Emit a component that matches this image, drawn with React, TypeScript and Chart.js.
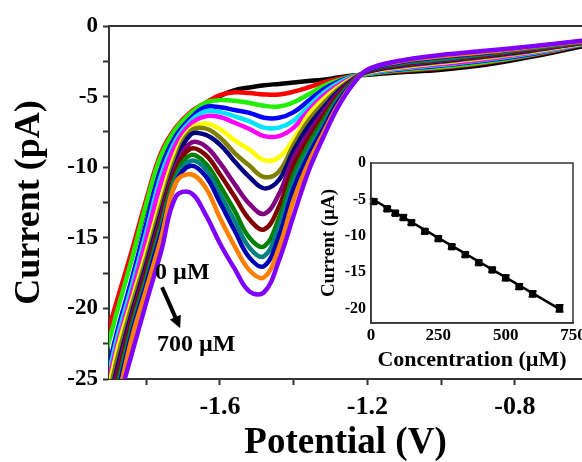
import { useEffect, useRef } from 'react';
import { Chart, registerables } from 'chart.js';

Chart.register(...registerables);

// ---------- main voltammogram data ----------
const potentials = [-1.92, -1.88, -1.84, -1.80, -1.76, -1.72, -1.68, -1.64, -1.60, -1.56, -1.52, -1.48, -1.44, -1.40, -1.36, -1.32, -1.28, -1.24, -1.20, -1.12, -1.00, -0.88, -0.76, -0.62];

const curveBlack = [-23.6, -19.9, -16.5, -12.75, -9.4, -7.35, -6.2, -5.5, -4.95, -4.55, -4.35, -4.2, -4.1, -4.0, -3.9, -3.8, -3.65, -3.5, -3.45, -3.3, -3.1, -2.75, -2.2, -1.45];
const curveRed = [-23.1, -19.5, -16.0, -12.3, -9.0, -7.2, -6.1, -5.45, -4.9, -4.7, -4.75, -4.85, -4.85, -4.65, -4.35, -4.0, -3.75, -3.55, -3.4, -3.2, -2.95, -2.6, -2.1, -1.35];
const curveGreen = [-24.2, -20.3, -16.6, -12.6, -9.2, -7.3, -6.2, -5.45, -5.25, -5.3, -5.45, -5.65, -5.7, -5.4, -4.85, -4.25, -3.85, -3.55, -3.4, -3.15, -2.9, -2.55, -2.05, -1.3];
const curveBlue = [-26.2, -21.75, -18.0, -14.0, -10.1, -7.8, -6.55, -5.75, -5.75, -5.95, -6.15, -6.5, -6.5, -6.1, -5.3, -4.5, -3.95, -3.6, -3.35, -3.1, -2.8, -2.45, -2.0, -1.3];
const curveCyan = [-26.8, -22.2, -18.5, -14.6, -10.6, -8.1, -6.75, -6.05, -6.1, -6.4, -6.75, -7.2, -7.2, -6.7, -5.7, -4.75, -4.05, -3.6, -3.35, -3.05, -2.75, -2.4, -1.95, -1.3];
const curveMagenta = [-27.3, -22.7, -19.0, -15.1, -11.1, -8.4, -6.95, -6.4, -6.45, -6.85, -7.3, -7.8, -7.8, -7.2, -6.0, -4.95, -4.2, -3.65, -3.3, -3.0, -2.7, -2.35, -1.9, -1.25];
const curveYellow = [-28.0, -23.1, -19.5, -16.0, -12.3, -9.0, -7.3, -6.9, -7.3, -8.1, -8.75, -9.5, -9.3, -8.0, -6.3, -5.2, -4.35, -3.7, -3.3, -2.95, -2.6, -2.25, -1.85, -1.25];
const curveOlive = [-28.5, -23.7, -19.9, -16.45, -12.75, -9.4, -7.45, -7.25, -7.9, -9.0, -9.9, -10.7, -10.3, -8.4, -6.7, -5.5, -4.5, -3.75, -3.25, -2.9, -2.55, -2.2, -1.8, -1.2];
const curveNavy = [-29.0, -24.35, -20.4, -16.9, -13.2, -9.8, -7.7, -7.7, -8.4, -9.6, -10.7, -11.5, -10.9, -8.8, -7.1, -5.8, -4.65, -3.8, -3.25, -2.85, -2.5, -2.15, -1.75, -1.2];
const curvePurple = [-29.3, -24.7, -20.7, -17.2, -13.5, -10.0, -8.3, -8.5, -9.7, -11.2, -12.6, -13.3, -11.9, -9.3, -7.6, -6.1, -4.8, -3.85, -3.2, -2.8, -2.45, -2.1, -1.7, -1.2];
const curveMaroon = [-29.6, -25.1, -20.95, -17.45, -13.75, -10.25, -8.7, -9.1, -10.5, -12.1, -13.7, -14.4, -12.8, -9.9, -8.0, -6.4, -4.95, -3.9, -3.2, -2.75, -2.4, -2.05, -1.65, -1.15];
const curveDarkGreen = [-30.0, -25.6, -21.3, -17.8, -14.1, -10.6, -9.15, -9.7, -11.3, -13.1, -15.0, -15.6, -13.6, -10.5, -8.4, -6.7, -5.1, -3.95, -3.15, -2.7, -2.35, -2.0, -1.6, -1.15];
const curveTeal = [-30.3, -26.0, -21.6, -18.05, -14.4, -10.85, -9.55, -10.1, -11.9, -13.8, -15.7, -16.3, -14.2, -11.0, -8.8, -7.0, -5.25, -4.0, -3.15, -2.65, -2.3, -1.95, -1.55, -1.1];
const curveDarkBlue = [-30.6, -26.3, -21.85, -18.3, -14.65, -11.1, -9.9, -10.6, -12.5, -14.5, -16.4, -17.0, -14.9, -11.5, -9.2, -7.3, -5.4, -4.05, -3.15, -2.6, -2.2, -1.9, -1.5, -1.1];
const curveOrange = [-31.0, -26.8, -22.2, -18.65, -15.05, -11.1, -10.5, -11.4, -13.6, -15.6, -17.3, -17.8, -15.7, -12.3, -9.7, -7.6, -5.6, -4.1, -3.1, -2.55, -2.15, -1.85, -1.5, -1.1];
const curveViolet = [-31.5, -27.1, -23.3, -19.6, -16.0, -12.1, -11.8, -13.3, -15.4, -17.2, -18.8, -18.85, -16.6, -13.4, -10.3, -7.9, -5.75, -4.15, -3.1, -2.5, -2.05, -1.75, -1.45, -1.05];

const curves = [curveBlack, curveRed, curveGreen, curveBlue, curveCyan, curveMagenta, curveYellow, curveOlive, curveNavy, curvePurple, curveMaroon, curveDarkGreen, curveTeal, curveDarkBlue, curveOrange, curveViolet];
const curveLabels = ['0 µM', '10 µM', '60 µM', '90 µM', '120 µM', '150 µM', '200 µM', '250 µM', '300 µM', '350 µM', '400 µM', '450 µM', '500 µM', '550 µM', '600 µM', '700 µM'];
const curveColors = ['#000000', '#ff0000', '#22ee00', '#0000ff', '#00e5ff', '#ff00ff', '#ffff00', '#808000', '#000080', '#800080', '#800000', '#008000', '#008080', '#0000b0', '#ff8000', '#8000ff'];

const mainYTicks = [-25, -22.5, -20, -17.5, -15, -12.5, -10, -7.5, -5, -2.5, 0];
const mainYLabels = ['-25', '', '-20', '', '-15', '', '-10', '', '-5', '', '0'];
const mainXTicks = [-1.8, -1.6, -1.4, -1.2, -1.0, -0.8];
const mainXLabels = ['', '-1.6', '', '-1.2', '', '-0.8'];

// ---------- inset calibration data ----------
const concentrations = [10, 60, 90, 120, 150, 200, 250, 300, 350, 400, 450, 500, 550, 600, 700];
const peakCurrents = [-5.3, -6.3, -6.9, -7.5, -8.2, -9.4, -10.4, -11.5, -12.6, -13.7, -14.7, -15.8, -17.0, -18.0, -20.0];
const peakErrors = [0.3, 0.3, 0.3, 0.3, 0.3, 0.3, 0.3, 0.3, 0.3, 0.3, 0.3, 0.35, 0.35, 0.4, 0.5];
const fitX = [0, 710];
const fitY = [-4.85, -20.3];
const insetXTicks = [0, 250, 500, 750];
const insetXLabels = ['0', '250', '500', '750'];
const insetYTicks = [-20, -15, -10, -5, 0];
const insetYLabels = ['-20', '-15', '-10', '-5', '0'];

const SERIF = '"Liberation Serif", "Times New Roman", Times, serif';
const AXIS = '#333333';

const framePlugin = {
  id: 'frameTop',
  afterDraw(chart: any) {
    const { ctx, chartArea: a } = chart;
    ctx.save();
    ctx.strokeStyle = AXIS;
    ctx.lineWidth = 2;
    ctx.beginPath();
    ctx.moveTo(a.left, a.top);
    ctx.lineTo(a.right, a.top);
    ctx.stroke();
    ctx.restore();
  },
};

const annotationPlugin = {
  id: 'concAnnot',
  afterDatasetsDraw(chart: any) {
    const { ctx } = chart;
    const xs = chart.scales.x;
    const ys = chart.scales.y;
    const px = (v: number) => xs.getPixelForValue(v);
    const py = (v: number) => ys.getPixelForValue(v);
    ctx.save();
    ctx.fillStyle = '#000';
    ctx.font = `bold 24px ${SERIF}`;
    ctx.textBaseline = 'middle';
    ctx.textAlign = 'left';
    ctx.fillText('0 µM', px(-1.776), py(-17.5));
    ctx.fillText('700 µM', px(-1.771), py(-22.6));
    const x1 = px(-1.757), y1 = py(-18.5), x2 = px(-1.708), y2 = py(-21.4);
    const ang = Math.atan2(y2 - y1, x2 - x1);
    ctx.strokeStyle = '#000';
    ctx.lineWidth = 4;
    ctx.beginPath();
    ctx.moveTo(x1, y1);
    ctx.lineTo(x2 - 8 * Math.cos(ang), y2 - 8 * Math.sin(ang));
    ctx.stroke();
    ctx.beginPath();
    ctx.moveTo(x2, y2);
    ctx.lineTo(x2 - 12 * Math.cos(ang) + 6 * Math.sin(ang), y2 - 12 * Math.sin(ang) - 6 * Math.cos(ang));
    ctx.lineTo(x2 - 12 * Math.cos(ang) - 6 * Math.sin(ang), y2 - 12 * Math.sin(ang) + 6 * Math.cos(ang));
    ctx.closePath();
    ctx.fill();
    ctx.restore();
  },
};

const boxPlugin = {
  id: 'insetBox',
  afterDraw(chart: any) {
    const { ctx, chartArea: a } = chart;
    ctx.save();
    ctx.strokeStyle = AXIS;
    ctx.lineWidth = 1.5;
    ctx.strokeRect(a.left, a.top, a.right - a.left, a.bottom - a.top);
    ctx.restore();
  },
};

const errorBarPlugin = {
  id: 'errorBars',
  afterDatasetsDraw(chart: any) {
    const { ctx } = chart;
    const xs = chart.scales.x;
    const ys = chart.scales.y;
    ctx.save();
    ctx.strokeStyle = '#000';
    ctx.lineWidth = 1.5;
    concentrations.forEach((c, i) => {
      const x = xs.getPixelForValue(c);
      const yTop = ys.getPixelForValue(peakCurrents[i] + peakErrors[i]);
      const yBot = ys.getPixelForValue(peakCurrents[i] - peakErrors[i]);
      ctx.beginPath();
      ctx.moveTo(x, yTop);
      ctx.lineTo(x, yBot);
      ctx.moveTo(x - 4, yTop);
      ctx.lineTo(x + 4, yTop);
      ctx.moveTo(x - 4, yBot);
      ctx.lineTo(x + 4, yBot);
      ctx.stroke();
    });
    ctx.restore();
  },
};

export default function App() {
  const mainRef = useRef<HTMLCanvasElement>(null);
  const insetRef = useRef<HTMLCanvasElement>(null);

  useEffect(() => {
    Chart.defaults.font.family = SERIF;
    Chart.defaults.color = '#000';

    const datasets = curves.map((vals, k) => ({
      label: curveLabels[k],
      data: potentials.map((x, i) => ({ x, y: vals[i] })),
      borderColor: curveColors[k],
      backgroundColor: curveColors[k],
      borderWidth: 4.5,
      pointRadius: 0,
      fill: false,
      tension: 0.4,
      borderJoinStyle: 'round',
      borderCapStyle: 'round',
      clip: 0,
      order: curves.length - k,
    }));

    const main = new Chart(mainRef.current as HTMLCanvasElement, {
      type: 'line',
      data: { datasets } as any,
      options: {
        animation: false,
        responsive: true,
        maintainAspectRatio: false,
        layout: { padding: { top: 26, right: 0, bottom: 0, left: 0 } },
        plugins: { legend: { display: false }, tooltip: { enabled: false } },
        scales: {
          x: {
            type: 'linear',
            min: -1.901,
            max: -0.618,
            afterBuildTicks: (s: any) => { s.ticks = mainXTicks.map((v) => ({ value: v })); },
            afterFit: (s: any) => { s.height = 83; s.paddingLeft = 0; s.paddingRight = 0; },
            ticks: {
              callback: (v: any) => mainXLabels[mainXTicks.indexOf(v)] ?? '',
              font: { size: 26, weight: 'bold' },
              color: '#000',
              padding: 7,
              maxRotation: 0,
              autoSkip: false,
            },
            grid: { drawOnChartArea: false, drawTicks: true, tickLength: 6, tickWidth: 2, tickColor: AXIS },
            border: { display: true, color: AXIS, width: 2 },
            title: {
              display: true,
              text: 'Potential (V)',
              font: { size: 37, weight: 'bold', lineHeight: 1 },
              color: '#000',
              padding: { top: 0, bottom: 0 },
            },
          },
          y: {
            type: 'linear',
            min: -25,
            max: 0,
            afterBuildTicks: (s: any) => { s.ticks = mainYTicks.map((v) => ({ value: v })); },
            afterFit: (s: any) => { s.width = 109; s.paddingTop = 0; s.paddingBottom = 0; },
            ticks: {
              callback: (v: any) => mainYLabels[mainYTicks.indexOf(v)] ?? '',
              font: { size: 23, weight: 'bold' },
              color: '#000',
              padding: 5,
              autoSkip: false,
            },
            grid: { drawOnChartArea: false, drawTicks: true, tickLength: 6, tickWidth: 2, tickColor: AXIS },
            border: { display: true, color: AXIS, width: 2 },
            title: {
              display: true,
              text: 'Current (pA)',
              font: { size: 36, weight: 'bold', lineHeight: 1 },
              color: '#000',
              padding: { top: 12, bottom: 0 },
            },
          },
        },
      } as any,
      plugins: [framePlugin, annotationPlugin],
    });

    const inset = new Chart(insetRef.current as HTMLCanvasElement, {
      type: 'line',
      data: {
        datasets: [
          {
            label: 'Peak current',
            data: concentrations.map((c, i) => ({ x: c, y: peakCurrents[i] })),
            showLine: false,
            pointStyle: 'rect',
            pointRadius: 4.5,
            pointBackgroundColor: '#000',
            pointBorderColor: '#000',
            borderColor: '#000',
            order: 0,
          },
          {
            label: 'Linear fit',
            data: fitX.map((x, i) => ({ x, y: fitY[i] })),
            borderColor: '#000',
            borderWidth: 2.5,
            pointRadius: 0,
            fill: false,
            order: 1,
          },
        ],
      } as any,
      options: {
        animation: false,
        responsive: true,
        maintainAspectRatio: false,
        layout: { padding: { top: 13, right: 9, bottom: 0, left: 0 } },
        plugins: { legend: { display: false }, tooltip: { enabled: false } },
        scales: {
          x: {
            type: 'linear',
            min: 0,
            max: 750,
            afterBuildTicks: (s: any) => { s.ticks = insetXTicks.map((v) => ({ value: v })); },
            afterFit: (s: any) => { s.height = 57; s.paddingLeft = 0; s.paddingRight = 0; },
            ticks: {
              callback: (v: any) => insetXLabels[insetXTicks.indexOf(v)] ?? '',
              font: { size: 17, weight: 'bold' },
              color: '#000',
              padding: 2,
              maxRotation: 0,
              autoSkip: false,
            },
            grid: { drawOnChartArea: false, drawTicks: false },
            border: { display: true, color: AXIS, width: 1.5 },
            title: {
              display: true,
              text: 'Concentration (µM)',
              font: { size: 22, weight: 'bold', lineHeight: 1 },
              color: '#000',
              padding: { top: 0, bottom: 9 },
            },
          },
          y: {
            type: 'linear',
            min: -22,
            max: 0,
            afterBuildTicks: (s: any) => { s.ticks = insetYTicks.map((v) => ({ value: v })); },
            afterFit: (s: any) => { s.width = 61; s.paddingTop = 0; s.paddingBottom = 0; },
            ticks: {
              callback: (v: any) => insetYLabels[insetYTicks.indexOf(v)] ?? '',
              font: { size: 16, weight: 'bold' },
              color: '#000',
              padding: 5,
              autoSkip: false,
            },
            grid: { drawOnChartArea: false, drawTicks: false },
            border: { display: true, color: AXIS, width: 1.5 },
            title: {
              display: true,
              text: 'Current (µA)',
              font: { size: 19, weight: 'bold', lineHeight: 1 },
              color: '#000',
              padding: { top: 10, bottom: 0 },
            },
          },
        },
      } as any,
      plugins: [boxPlugin, errorBarPlugin],
    });

    return () => {
      main.destroy();
      inset.destroy();
    };
  }, []);

  return (
    <div style={{ position: 'absolute', left: 0, top: 0, width: 582, height: 462, background: '#ffffff', overflow: 'hidden' }}>
      <div style={{ position: 'absolute', left: 0, top: 0, width: 582, height: 462 }}>
        <canvas ref={mainRef} />
      </div>
      <div style={{ position: 'absolute', left: 310, top: 150, width: 272, height: 230 }}>
        <canvas ref={insetRef} />
      </div>
    </div>
  );
}
